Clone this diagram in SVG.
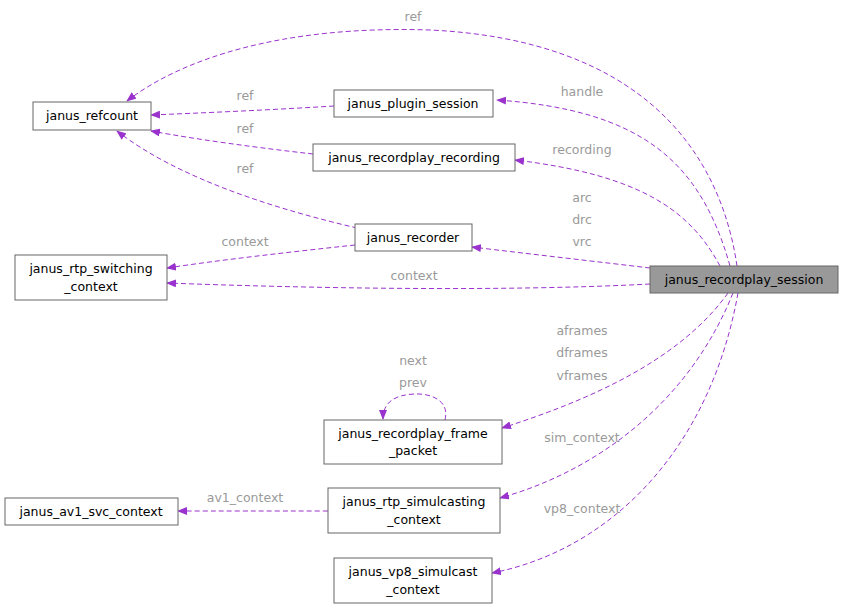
<svg xmlns="http://www.w3.org/2000/svg" width="844" height="609" viewBox="0 0 844 609">
<style>
.n rect{fill:#fff;stroke:#666;stroke-width:1}
.n text,.l{font-family:"DejaVu Sans",sans-serif;font-size:12.5px}
.n text{fill:#000;text-anchor:middle}
.l{fill:#9a9a9a;text-anchor:middle}
.e{fill:none;stroke:#9a32cd;stroke-width:1;stroke-dasharray:5,3;marker-end:url(#a)}
</style>
<defs><marker id="a" markerWidth="10" markerHeight="8" refX="9" refY="4" orient="auto" markerUnits="userSpaceOnUse"><path d="M0,0 L10,4 L0,8 z" fill="#9a32cd"/></marker></defs>
<rect width="844" height="609" fill="#fff"/>
<g id="edges">
<path class="e" d="M737,266 C720,150 640,40 430,30 C280,25 180,60 127,101"/>
<path class="e" d="M730,266 C700,160 640,110 497,100"/>
<path class="e" d="M720,266 C690,210 640,175 515,160"/>
<path class="e" d="M650,268 C600,262 530,254 472,247"/>
<path class="e" d="M650,284 C500,292 300,288 167,283"/>
<path class="e" d="M728,293 C680,360 590,400 502,428"/>
<path class="e" d="M733,293 C690,400 600,470 500,498"/>
<path class="e" d="M738,293 C710,450 610,550 492,573"/>
<path class="e" d="M334,106 C270,110 200,113 151,115"/>
<path class="e" d="M313,154 C260,148 200,140 151,131"/>
<path class="e" d="M357,228 C280,210 180,180 117,131"/>
<path class="e" d="M355,245 C290,252 220,260 167,268"/>
<path class="e" d="M445,420 C450,400 430,393 414,394 C395,395 383,402 383,419"/>
<path class="e" d="M328,511 C270,511 220,511 178,511"/>
</g>
<g id="labels">
<text class="l" x="413" y="21">ref</text>
<text class="l" x="582" y="96">handle</text>
<text class="l" x="582" y="154">recording</text>
<text class="l" x="582" y="202">arc</text>
<text class="l" x="582" y="224">drc</text>
<text class="l" x="582" y="246">vrc</text>
<text class="l" x="414" y="280">context</text>
<text class="l" x="582" y="335">aframes</text>
<text class="l" x="582" y="357">dframes</text>
<text class="l" x="582" y="380">vframes</text>
<text class="l" x="582" y="442">sim_context</text>
<text class="l" x="582" y="513">vp8_context</text>
<text class="l" x="245" y="100">ref</text>
<text class="l" x="245" y="133">ref</text>
<text class="l" x="245" y="173">ref</text>
<text class="l" x="245" y="246">context</text>
<text class="l" x="413" y="365">next</text>
<text class="l" x="413" y="387">prev</text>
<text class="l" x="245" y="502">av1_context</text>
</g>
<g id="janus_refcount" class="n"><rect x="33" y="102" width="118" height="28"/><text x="92" y="120">janus_refcount</text></g>
<g id="janus_plugin_session" class="n"><rect x="334" y="90" width="159" height="27"/><text x="413" y="108">janus_plugin_session</text></g>
<g id="janus_recordplay_recording" class="n"><rect x="313" y="144" width="202" height="27"/><text x="414" y="162">janus_recordplay_recording</text></g>
<g id="janus_recorder" class="n"><rect x="355" y="224" width="117" height="27"/><text x="413" y="242">janus_recorder</text></g>
<g id="janus_rtp_switching_context" class="n"><rect x="15" y="255" width="152" height="45"/><text x="91" y="273">janus_rtp_switching</text><text x="91" y="291">_context</text></g>
<g id="janus_recordplay_session" class="n"><rect x="650" y="266" width="188" height="27" style="fill:#999"/><text x="744" y="284">janus_recordplay_session</text></g>
<g id="janus_recordplay_frame_packet" class="n"><rect x="324" y="420" width="178" height="44"/><text x="413" y="438">janus_recordplay_frame</text><text x="413" y="455">_packet</text></g>
<g id="janus_rtp_simulcasting_context" class="n"><rect x="328" y="488" width="172" height="45"/><text x="414" y="506">janus_rtp_simulcasting</text><text x="414" y="524">_context</text></g>
<g id="janus_av1_svc_context" class="n"><rect x="5" y="498" width="173" height="27"/><text x="91" y="516">janus_av1_svc_context</text></g>
<g id="janus_vp8_simulcast_context" class="n"><rect x="334" y="558" width="158" height="45"/><text x="413" y="576">janus_vp8_simulcast</text><text x="413" y="594">_context</text></g>
</svg>
